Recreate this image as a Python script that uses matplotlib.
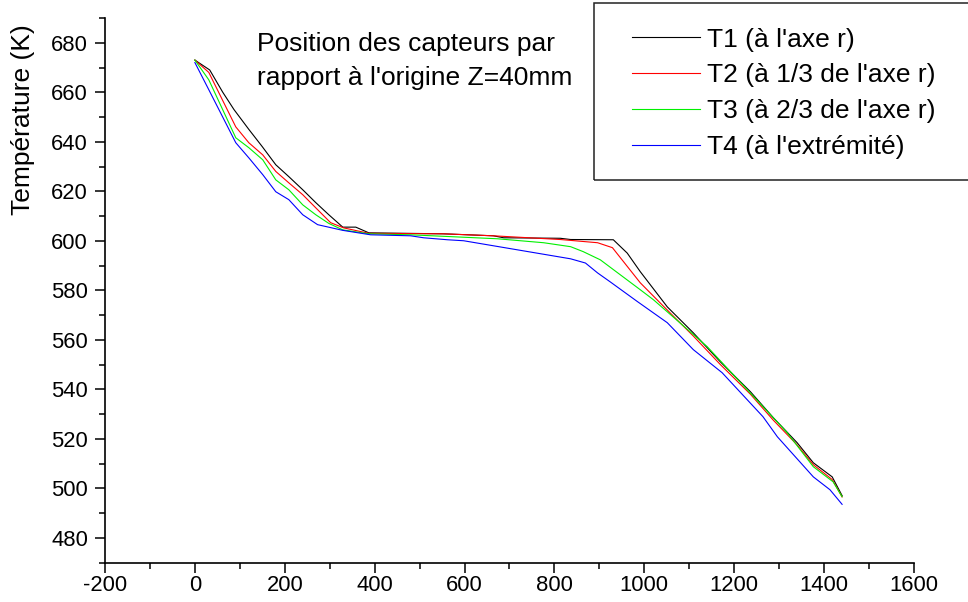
import matplotlib
matplotlib.use("Agg")
import matplotlib.pyplot as plt
from matplotlib.patches import Rectangle
from matplotlib.ticker import MultipleLocator

plt.rcParams['font.family'] = ['Liberation Sans', 'DejaVu Sans']
plt.rcParams['axes.unicode_minus'] = False

# ---- data ----
t1_x = [0, 33, 62, 87, 120, 150, 180, 209, 240, 269, 298, 329, 358, 387, 553, 664, 687,
        813, 836, 931, 962, 991, 1051, 1109, 1169, 1236, 1287, 1340, 1376, 1418, 1440]
t1_y = [673, 669, 660, 653, 645, 638, 630.7, 625.9, 620.6, 615.4, 610.5, 605.5, 605.5, 603.2,
        602.8, 602, 601.2, 601, 600.5, 600.4, 595, 587.5, 573.3, 562.8, 551.1, 539, 528.5,
        518.4, 510.3, 504.6, 497]

t2_x = [0, 31, 91, 120, 151, 180, 209, 240, 269, 302, 331, 387, 553, 664, 813, 896, 929,
        991, 1051, 1109, 1169, 1236, 1287, 1340, 1376, 1418, 1440]
t2_y = [673, 668, 646, 639.6, 634.7, 628, 623.4, 618.6, 613.3, 607.3, 605.2, 603, 602.8, 602,
        600.5, 599.2, 597.2, 583, 572, 561.5, 550, 538, 527.5, 517.5, 509.5, 503.5, 496.5]

t3_x = [0, 31, 91, 120, 151, 180, 209, 240, 269, 298, 329, 387, 480, 673, 776, 836, 864,
        902, 991, 1020, 1051, 1140, 1229, 1318, 1376, 1420, 1440]
t3_y = [673, 665, 641.6, 637.6, 632.7, 624.6, 620.6, 614.5, 610.5, 607, 604.4, 602.8, 602.4,
        600.8, 599.2, 597.6, 595.6, 592.3, 580.2, 576.2, 571.3, 557.2, 539.8, 522.4, 508.7,
        502.6, 496.6]

t4_x = [0, 31, 91, 120, 151, 180, 209, 240, 273, 329, 391, 480, 509, 562, 598, 836, 869,
        896, 924, 984, 1051, 1109, 1173, 1264, 1296, 1376, 1413, 1440]
t4_y = [672, 661, 639.6, 633.5, 626.7, 619.8, 616.6, 610.5, 606.5, 604.2, 602.4, 602, 601.2,
        600.4, 600, 592.7, 591, 587, 583.4, 575.5, 566.9, 556, 546.7, 528.9, 520.8, 504.6,
        499.4, 493.5]

labels = ["T1 (à l'axe r)", "T2 (à 1/3 de l'axe r)", "T3 (à 2/3 de l'axe r)", "T4 (à l'extrémité)"]
colors = ["#000000", "#ff0000", "#00f000", "#0000ff"]

x_ticks = list(range(-200, 1601, 200))
y_ticks = list(range(480, 681, 20))

W, H = 968, 602
fig = plt.figure(figsize=(W / 100, H / 100), dpi=100)
ax = fig.add_axes([105 / W, 1 - 562.5 / H, (914 - 105) / W, (562.5 - 18) / H])

series = [(t1_x, t1_y), (t2_x, t2_y), (t3_x, t3_y), (t4_x, t4_y)]
handles = []
for (xs, ys), c, lab in zip(series, colors, labels):
    h, = ax.plot(xs, ys, color=c, lw=0.8, label=lab)
    handles.append(h)

ax.set_xlim(-200, 1600)
ax.set_ylim(470, 690)
ax.set_xticks(x_ticks)
ax.set_yticks(y_ticks)
ax.xaxis.set_minor_locator(MultipleLocator(100))
ax.yaxis.set_minor_locator(MultipleLocator(10))
ax.spines['top'].set_visible(False)
ax.spines['right'].set_visible(False)
for s in ['left', 'bottom']:
    ax.spines[s].set_linewidth(1.2)
ax.tick_params(which='major', direction='out', length=7.2, width=1.1, labelsize=15.8)
ax.tick_params(which='minor', direction='out', length=4, width=1.1)
ax.tick_params(axis='x', which='major', pad=1.5)
ax.tick_params(axis='y', which='major', pad=5)

fig.text(23.5 / W, 1 - 120 / H, "Température (K)", rotation=90, ha='center', va='center',
         fontsize=19)

fig.text(257 / W, 1 - 51 / H, "Position des capteurs par", ha='left', va='baseline', fontsize=19)
fig.text(257 / W, 1 - 85 / H, "rapport à l'origine Z=40mm", ha='left', va='baseline', fontsize=19)

fig.patches.append(Rectangle((594 / W, 1 - 180 / H), (975 - 594) / W, 177 / H,
                             transform=fig.transFigure, fill=False, edgecolor='#222222',
                             lw=1.1, clip_on=False))
fig.legend(handles=handles, labels=labels, loc='upper left',
           bbox_to_anchor=(632 / W, 1 - 27.5 / H), frameon=False, fontsize=19,
           handlelength=2.58, handletextpad=0.27, labelspacing=0.45, borderpad=0,
           borderaxespad=0)

fig.savefig("out.png", dpi=100)
